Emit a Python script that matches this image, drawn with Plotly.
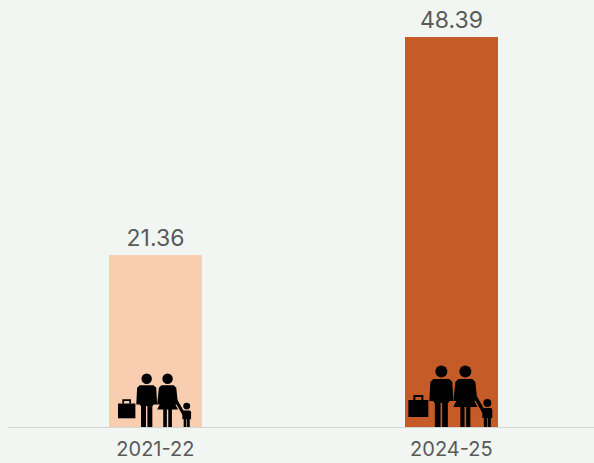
import plotly.graph_objects as go

categories = ["2021-22", "2024-25"]
values = [21.36, 48.39]
value_labels = ["21.36", "48.39"]
bar_colors = ["#F9CDB0", "#C55C27"]

BG = "#F1F6F2"
TXT = "#595959"
FONT = "Inter"

xpos = list(range(len(categories)))

fig = go.Figure()
fig.add_trace(go.Bar(
    x=xpos, y=values, width=0.314,
    marker=dict(color=bar_colors, line=dict(width=0)),
    text=value_labels, textposition="outside",
    textfont=dict(family=FONT, size=23, color=TXT),
    cliponaxis=False, hoverinfo="skip",
))


def family(xi, s):
    shapes = []
    def rect(x0, x1, y0, y1):
        shapes.append(dict(type="rect", xref="x", yref="y", xsizemode="pixel", ysizemode="pixel",
                           xanchor=xi, yanchor=0, x0=x0 * s, x1=x1 * s, y0=y0 * s, y1=y1 * s,
                           fillcolor="black", line=dict(width=0), layer="above"))
    def circ(cx, cy, r):
        shapes.append(dict(type="circle", xref="x", yref="y", xsizemode="pixel", ysizemode="pixel",
                           xanchor=xi, yanchor=0, x0=(cx - r) * s, x1=(cx + r) * s,
                           y0=(cy - r) * s, y1=(cy + r) * s,
                           fillcolor="black", line=dict(width=0), layer="above"))
    def poly(pts, filled=True, lw=0):
        p = "M " + " L ".join(f"{x * s:.2f},{y * s:.2f}" for x, y in pts) + (" Z" if filled else "")
        shapes.append(dict(type="path", xref="x", yref="y", xsizemode="pixel", ysizemode="pixel",
                           xanchor=xi, yanchor=0, path=p,
                           fillcolor="black" if filled else "rgba(0,0,0,0)",
                           line=dict(width=lw * s, color="black"), layer="above"))
    # man
    mc = -10
    circ(mc, 55.5, 6)
    poly([(mc - 8, 48), (mc + 8, 48), (mc + 11, 45), (mc + 12, 26), (mc + 8, 26), (mc + 7, 24),
          (mc - 7, 24), (mc - 8, 26), (mc - 12, 26), (mc - 11, 45)])
    rect(mc - 6.5, mc - 0.8, 0, 27)
    rect(mc + 0.8, mc + 6.5, 0, 27)
    # woman
    wc = 14
    circ(wc, 55.5, 6)
    poly([(wc - 7, 48), (wc + 7, 48), (wc + 10, 45), (wc + 12, 26), (wc + 9, 26), (wc + 12, 20),
          (wc - 12, 20), (wc - 9, 26), (wc - 12, 26), (wc - 10, 45)])
    rect(wc - 5, wc - 0.8, 0, 22)
    rect(wc + 0.8, wc + 5, 0, 22)
    # arm to child
    poly([(wc + 10, 30), (33, 14)], filled=False, lw=3.5)
    # child
    cc = 36
    circ(cc, 24, 4)
    poly([(cc - 4, 19), (cc + 4, 19), (cc + 5, 17), (cc + 5, 9), (cc - 5, 9), (cc - 5, 17)])
    rect(cc - 3.5, cc - 0.4, 0, 11)
    rect(cc + 0.4, cc + 3.5, 0, 11)
    # suitcase
    rect(-43, -23, 10, 27)
    poly([(-37, 27), (-37, 31), (-29, 31), (-29, 27)], filled=False, lw=2)
    return shapes


shapes = family(0, 0.87) + family(1, 1.0)

fig.update_layout(
    width=594, height=463,
    margin=dict(l=8, r=0, t=8, b=36),
    paper_bgcolor=BG, plot_bgcolor=BG,
    showlegend=False,
    bargap=0,
    shapes=shapes,
    xaxis=dict(range=[-0.498, 1.482], tickvals=xpos, ticktext=categories,
               showgrid=False, zeroline=False, showline=True, linecolor="#D3D6D3", linewidth=1,
               ticks="", ticklabelstandoff=4,
               tickfont=dict(family=FONT, size=20, color=TXT), fixedrange=True),
    yaxis=dict(range=[0, 52], visible=False, fixedrange=True),
)

fig.write_html(
    "out.html",
    config={"displayModeBar": False},
    post_script="document.body.style.margin='0';document.body.style.background='%s';" % BG,
)
